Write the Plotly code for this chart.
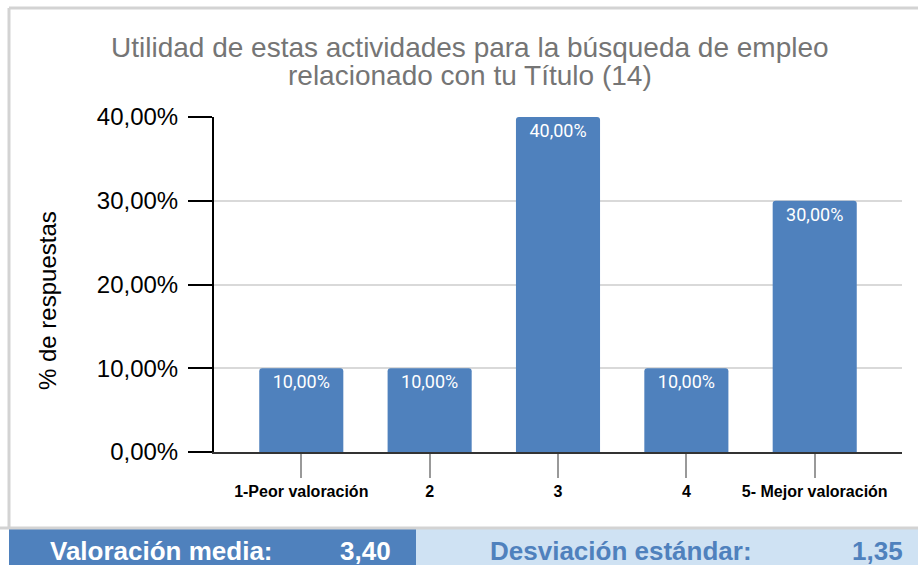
import plotly.graph_objects as go

# data
categories = ["1-Peor valoración", "2", "3", "4", "5- Mejor valoración"]
pct_values = [0.10, 0.10, 0.40, 0.10, 0.30]
y_ticks = [0.0, 0.1, 0.2, 0.3, 0.4]
y_tick_labels = ["0,00%", "10,00%", "20,00%", "30,00%", "40,00%"]
title_lines = ["Utilidad de estas actividades para la búsqueda de empleo",
               "relacionado con tu Título (14)"]
mean_label = "Valoración media:"
mean_value = "3,40"
sd_label = "Desviación estándar:"
sd_value = "1,35"

W, H = 918, 565
PL, PR, PT, PB = 214, 902, 117, 452  # plot area in pixels

BLUE = "#4f81bd"
LIGHT = "#cfe2f3"
BORDER = "#d3d3d3"
FONT = "Liberation Sans, Arial, sans-serif"


def px(x):
    return (x - PL) / (PR - PL)


def py(y):
    return (PB - y) / (PB - PT)


bar_text = [f"{v * 100:.2f}%".replace(".", ",") for v in pct_values]

fig = go.Figure(go.Bar(
    x=list(range(len(categories))),
    y=pct_values,
    width=0.655,
    marker=dict(color=BLUE, cornerradius=3, line_width=0),
    text=bar_text,
    textposition="inside",
    insidetextanchor="end",
    textangle=0,
    textfont=dict(color="white", size=18, family="Roboto, " + FONT),
    hoverinfo="skip",
))

fig.update_layout(
    width=W, height=H,
    margin=dict(l=PL, r=W - PR, t=PT, b=H - PB),
    paper_bgcolor="white",
    plot_bgcolor="white",
    showlegend=False,
    font=dict(family=FONT, color="black"),
    xaxis=dict(
        range=[-0.68, 4.68],
        tickmode="array",
        tickvals=list(range(len(categories))),
        ticktext=[f"<b>{c}</b>" for c in categories],
        tickfont=dict(size=16, color="black"),
        ticks="outside", ticklen=24, tickwidth=2, tickcolor="#999999",
        showline=True, linecolor="#333333", linewidth=2,
        showgrid=False, zeroline=False, fixedrange=True,
    ),
    yaxis=dict(
        range=[0, 0.4],
        tickmode="array",
        tickvals=y_ticks,
        ticktext=y_tick_labels,
        tickfont=dict(size=24, color="black"),
        ticks="outside", ticklen=24, tickwidth=2, tickcolor="black",
        ticklabelstandoff=5,
        showline=True, linecolor="black", linewidth=2,
        showgrid=True, gridcolor="#d9d9d9", gridwidth=2,
        zeroline=False, fixedrange=True,
    ),
)

shapes = [
    # frame lines
    dict(type="line", xref="paper", yref="paper",
         x0=px(9), x1=px(W), y0=py(8), y1=py(8),
         line=dict(color=BORDER, width=3), layer="below"),
    dict(type="line", xref="paper", yref="paper",
         x0=px(9), x1=px(9), y0=py(8), y1=py(528),
         line=dict(color=BORDER, width=3), layer="below"),
    # summary strip
    dict(type="rect", xref="paper", yref="paper",
         x0=px(9), x1=px(416), y0=py(529), y1=py(H + 5),
         fillcolor=BLUE, line_width=0),
    dict(type="rect", xref="paper", yref="paper",
         x0=px(416), x1=px(W + 5), y0=py(529), y1=py(H + 5),
         fillcolor=LIGHT, line_width=0),
    dict(type="line", xref="paper", yref="paper",
         x0=px(0), x1=px(W), y0=py(528), y1=py(528),
         line=dict(color=BORDER, width=3)),
]
fig.update_layout(shapes=shapes)

strip_y = py(551)
strip_font = dict(size=26, family=FONT)
annotations = [
    dict(text=title_lines[0], x=px(470), xanchor="center", y=py(47),
         font=dict(size=28, color="#757575", family=FONT)),
    dict(text=title_lines[1], x=px(470), xanchor="center", y=py(75),
         font=dict(size=28, color="#757575", family=FONT)),
    dict(text="% de respuestas", textangle=-90, x=px(47), xanchor="center",
         y=py(301), font=dict(size=24, color="black", family=FONT)),
    dict(text=f"<b>{mean_label}</b>", x=px(48), xanchor="left", y=strip_y,
         font=dict(color="white", **strip_font)),
    dict(text=f"<b>{mean_value}</b>", x=px(393), xanchor="right", y=strip_y,
         font=dict(color="white", **strip_font)),
    dict(text=f"<b>{sd_label}</b>", x=px(488), xanchor="left", y=strip_y,
         font=dict(color=BLUE, **strip_font)),
    dict(text=f"<b>{sd_value}</b>", x=px(905), xanchor="right", y=strip_y,
         font=dict(color=BLUE, **strip_font)),
]
for a in annotations:
    a.update(xref="paper", yref="paper", showarrow=False, yanchor="middle")
fig.update_layout(annotations=annotations)

fig.write_html("out.html", config={"displayModeBar": False},
               post_script="document.body.style.margin='0px';")
